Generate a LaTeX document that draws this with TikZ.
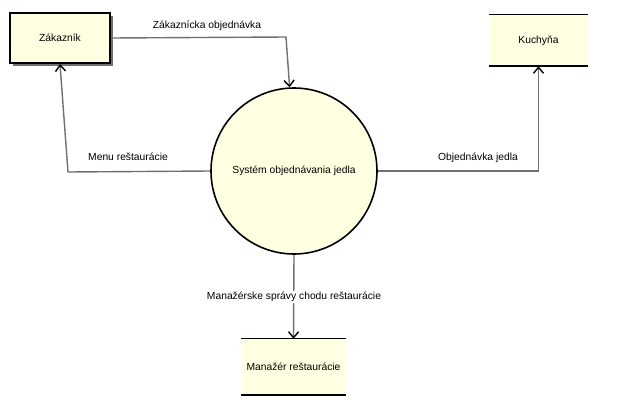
\documentclass[tikz,border=0pt]{standalone}
\usepackage{fontspec}
\setmainfont{Liberation Sans}
\usetikzlibrary{arrows.meta, shadows}
\definecolor{dfdfill}{RGB}{255,255,225}
\definecolor{flowgray}{RGB}{112,112,112}

\begin{document}
\begin{tikzpicture}[x=1pt,y=-1pt,
  every node/.style={font=\fontsize{10.3}{12}\selectfont},
  entity/.style={draw=black,line width=2.2pt,fill=dfdfill,minimum width=100pt,minimum height=50pt,
    drop shadow={shadow xshift=3pt,shadow yshift=-3pt,fill=flowgray,opacity=1}},
  store/.style={fill=dfdfill,inner sep=0pt},
  process/.style={draw=black,line width=1.6pt,fill=dfdfill,shape=circle,minimum size=166pt,inner sep=0pt},
  flow/.style={draw=flowgray,line width=1.4pt,-{Straight Barb[length=6pt,width=10pt,color=black,line width=1.4pt]}},
  flowlabel/.style={fill=white,inner sep=1pt}]
  \useasboundingbox (0,0) rectangle (630,410);
  \path (60,38) node[entity] (zak) {Zákazník}
  (538.5,40.5) node[store,minimum width=99pt,minimum height=51pt] (kuch) {Kuchyňa}
  (293.5,367) node[store,minimum width=105pt,minimum height=56pt] (man) {Manažér reštaurácie}
  (294,171) node[process] (sys) {Systém objednávania jedla};
  % data store lines
  \draw[line width=0.8pt] (kuch.north west) -- (kuch.north east);
  \draw[line width=2.2pt] (kuch.south west) -- (kuch.south east);
  \draw[line width=0.8pt] (man.north west) -- (man.north east);
  \draw[line width=2.2pt] (man.south west) -- (man.south east);
  % flows
  \coordinate (b1) at (286,37);
  \coordinate (b2) at (68,172);
  \draw[flow] (zak.east) -- (b1) -- (sys.93);
  \draw[flow] (sys.west) -- (b2) -- (zak.south);
  \draw[flow] (sys.east) -| (kuch.south);
  \draw[flow] (sys.south) -- (man.north);
  \path (207,26) node (l1) {Zákaznícka objednávka}
  (128,157) node (l2) {Menu reštaurácie}
  (478,158) node (l3) {Objednávka jedla}
  (294,297) node[flowlabel] (l4) {Manažérske správy chodu reštaurácie};
\end{tikzpicture}
\end{document}
